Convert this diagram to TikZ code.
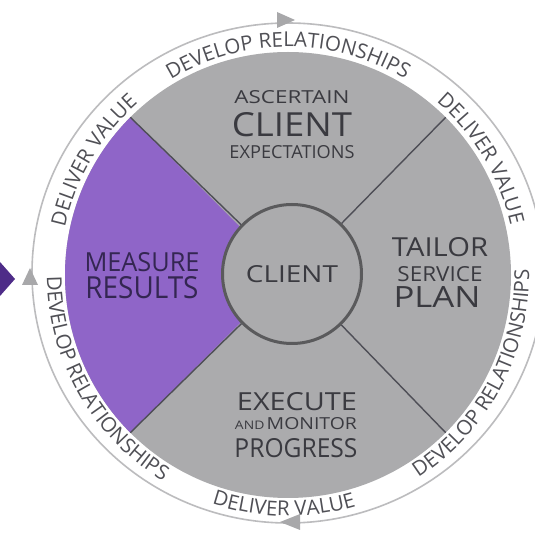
\documentclass[tikz,border=0pt]{standalone}
\usepackage{fontspec}
\setmainfont{Open Sans}
\usetikzlibrary{decorations.text,calc}
\definecolor{diskgray}{RGB}{171,171,173}
\definecolor{purp}{RGB}{143,101,200}
\definecolor{darkpurp}{RGB}{78,44,136}
\definecolor{divline}{RGB}{78,78,86}
\definecolor{clientrim}{RGB}{90,90,92}
\definecolor{ringgray}{RGB}{188,188,190}
\definecolor{arrowgray}{RGB}{168,168,170}
\definecolor{txt}{RGB}{58,58,64}
\definecolor{ptxt}{RGB}{52,38,82}
\definecolor{ringtxt}{RGB}{80,80,86}
\newcommand\rngfont{\fontsize{20.5}{20.5}\selectfont\color{ringtxt}}
\newcommand\fitw[3]{\resizebox{#1pt}{#2pt}{#3}}
\begin{document}
\begin{tikzpicture}[x=1pt,y=1pt,
  lbl/.style={anchor=base, inner sep=0pt, text=txt},
  plbl/.style={anchor=base, inner sep=0pt, text=ptxt},
  divider/.style={draw=divline, line width=1.4pt},
  ringline/.style={draw=ringgray, line width=1.6pt},
  ringarrow/.style={fill=arrowgray},
  ringtext/.style={decorate, decoration={text along path, text align=center, text={|\rngfont|#1}}}
]
\useasboundingbox (0,0) rectangle (535,536);
\fill[white] (0,0) rectangle (535,536);
\coordinate (D) at (288,261);
% outer ring
\draw[ringline] (288,263) ellipse[x radius=256, y radius=250];
% disk and purple sector
\fill[diskgray] (D) circle[radius=223];
\fill[purp] (D) -- ($(D)+(135:223)$) arc[start angle=135, end angle=225, radius=223] -- cycle;
% client circle
\node[circle, draw=clientrim, line width=3pt, fill=diskgray, minimum size=139pt, inner sep=0pt] (client) at (292,262) {};
\foreach \a in {45,135,225,315} {
  \coordinate (e\a) at ($(D)+(\a:223)$);
  \draw[divider] (client) -- (e\a);
}
% ring arrows
\fill[ringarrow] (295,516) -- (277,524) -- (277,508) -- cycle;
\fill[ringarrow] (30,268) -- (38,251) -- (22,251) -- cycle;
\fill[ringarrow] (280,14) -- (300,22) -- (300,6) -- cycle;
% dark purple pointer
\fill[darkpurp] (0,274) -- (15,257) -- (0,240) -- cycle;
% ring texts
\path[ringtext={DEVELOP RELATIONSHIPS}] ($(D)+(130:228)$) arc[start angle=130, end angle=50, radius=228];
\path[ringtext={DELIVER VALUE}] ($(D)+(61:228)$) arc[start angle=61, end angle=1, radius=228];
\path[ringtext={DELIVER VALUE}] ($(D)+(179.5:228)$) arc[start angle=179.5, end angle=119.5, radius=228];
\path[ringtext={DEVELOP RELATIONSHIPS}] ($(D)+(-68:241)$) arc[start angle=-68, end angle=12, radius=241];
\path[ringtext={DELIVER VALUE}] ($(D)+(-121:241)$) arc[start angle=-121, end angle=-61, radius=241];
\path[ringtext={DEVELOP RELATIONSHIPS}] ($(D)+(169.5:241)$) arc[start angle=169.5, end angle=249.5, radius=241];
% labels
\node[lbl] (asc) at (292,432) {\fitw{115}{13}{ASCERTAIN}};
\node[lbl] (cl1) at (292,399) {\fitw{120}{24}{CLIENT}};
\node[lbl] (exp) at (292,377) {\fitw{125}{13}{EXPECTATIONS}};
\node[plbl] (mea) at (142,264) {\fitw{115}{19}{MEASURE}};
\node[plbl] (res) at (142,237) {\fitw{113}{22}{RESULTS}};
\node[lbl] (cli) at (292,253) {\fitw{92}{17}{CLIENT}};
\node[lbl] (tai) at (440,279) {\fitw{96}{19}{TAILOR}};
\node[lbl] (ser) at (440,254) {\fitw{85}{15}{SERVICE}};
\node[lbl] (pla) at (437,228) {\fitw{87}{21}{PLAN}};
\node[lbl] (exe) at (297,126) {\fitw{120}{18}{EXECUTE}};
\node[lbl] (mon) at (296,106) {\fitw{122}{12}{{\fontsize{10}{10}\selectfont AND}\,{\fontsize{14}{14}\selectfont MONITOR}}};
\node[lbl] (pro) at (296,79) {\fitw{123}{19}{PROGRESS}};
\end{tikzpicture}
\end{document}
